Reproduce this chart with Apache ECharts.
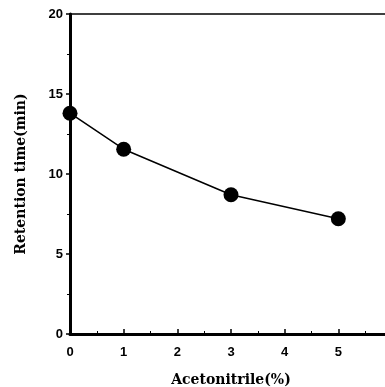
<!DOCTYPE html>
<html>
<head>
<meta charset="utf-8">
<script src="https://cdn.jsdelivr.net/npm/echarts@6/dist/echarts.min.js"></script>
<style>
html, body { margin: 0; padding: 0; background: #fff; }
#main { width: 385px; height: 387px; }
</style>
</head>
<body>
<div id="main"></div>
<script>
// acetonitrile content (%) vs retention time (min)
var acetonitrile = [0, 1, 3, 5];
var retention = [13.8, 11.55, 8.7, 7.2];
var xTicks = [0, 1, 2, 3, 4, 5];
var yTicks = [0, 5, 10, 15, 20];

var pts = [];
for (var i = 0; i < acetonitrile.length; i++) {
    pts.push([acetonitrile[i], retention[i]]);
}

var chart = echarts.init(document.getElementById('main'));
chart.setOption({
    animation: false,
    grid: {
        left: 70,
        top: 14,
        width: 322,
        bottom: 53,
        outerBoundsMode: 'none',
        containLabel: false,
        show: true,
        borderColor: '#000',
        borderWidth: 1.5
    },
    xAxis: {
        type: 'value',
        min: 0,
        max: 6,
        interval: 1,
        name: 'Acetonitrile(%)',
        nameLocation: 'middle',
        nameGap: 39,
        nameTextStyle: {
            fontFamily: 'DejaVu Serif',
            fontWeight: 'bold',
            fontSize: 14,
            color: '#000'
        },
        axisLine: { lineStyle: { color: '#000', width: 3 } },
        axisTick: { inside: true, length: 5, lineStyle: { color: '#000', width: 1.5 } },
        minorTick: { show: true, splitNumber: 2, length: 3, lineStyle: { color: '#000' } },
        splitLine: { show: false },
        axisLabel: {
            margin: 12,
            fontFamily: 'Liberation Sans',
            fontWeight: 'bold',
            fontSize: 13,
            color: '#000',
            formatter: function (v) {
                return xTicks.indexOf(v) >= 0 ? String(v) : '';
            }
        }
    },
    yAxis: {
        type: 'value',
        min: 0,
        max: 20,
        interval: 5,
        name: 'Retention time(min)',
        nameLocation: 'middle',
        nameGap: 42,
        nameTextStyle: {
            fontFamily: 'DejaVu Serif',
            fontWeight: 'bold',
            fontSize: 14,
            color: '#000'
        },
        axisLine: { lineStyle: { color: '#000', width: 3 } },
        axisTick: { length: 4, lineStyle: { color: '#000', width: 1.5 } },
        minorTick: { show: true, splitNumber: 2, length: 3, lineStyle: { color: '#000' } },
        splitLine: { show: false },
        axisLabel: {
            margin: 7,
            fontFamily: 'Liberation Sans',
            fontWeight: 'bold',
            fontSize: 13,
            color: '#000',
            formatter: function (v) {
                return yTicks.indexOf(v) >= 0 ? String(v) : '';
            }
        }
    },
    series: [{
        type: 'line',
        data: pts,
        symbol: 'circle',
        symbolSize: 15,
        itemStyle: { color: '#000' },
        lineStyle: { color: '#000', width: 1.5 }
    }]
});
</script>
</body>
</html>
